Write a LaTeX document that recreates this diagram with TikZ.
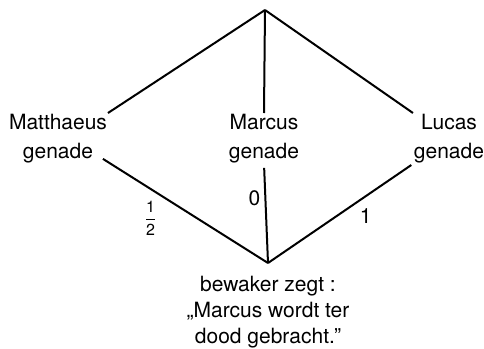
\documentclass[tikz,border=0pt]{standalone}
\usepackage{fontspec}
\setmainfont{TeX Gyre Heros}
\usepackage{tikz}

\begin{document}
\begin{tikzpicture}[
  x=0.5pt, y=-0.5pt,
  line width=1pt,
  gospel/.style={align=center, inner sep=0pt, anchor=north,
                 font=\fontsize{10.5}{14.5}\selectfont},
  verdict/.style={gospel, font=\fontsize{10.5}{13}\selectfont},
  wLabel/.style={inner sep=2pt, font=\fontsize{10.5}{12}\selectfont},
  fracLabel/.style={wLabel, font=\fontsize{8}{9}\selectfont}
]
\useasboundingbox[fill=white] (0,0) rectangle (484,349);
\coordinate (top) at (265,10);
\coordinate (bot) at (268,263);
\node[gospel] (mat) at (58,113) {Matthaeus\\genade};
\node[gospel] (mar) at (264,113) {Marcus\\genade};
\node[gospel] (luc) at (449,113) {Lucas\\genade};
\node[verdict] (guard) at (268,275) {bewaker zegt :\\„Marcus wordt ter\\dood gebracht.”};
\foreach \n/\a in {mat/north east, mar/north, luc/north west} \draw (top) -- (\n.\a);
\draw ([shift={(-5,-5)}]mat.south east) -- node[fracLabel, pos=0.36, anchor=north east] (half) {$\displaystyle\frac{\mathrm{1}}{\mathrm{2}}$} (bot);
\draw[shorten <=2pt] (mar.south) -- node[wLabel, pos=0.35, left] (zero) {0} (bot);
\draw[shorten <=1pt] (luc.south west) -- node[wLabel, pos=0.4, below right] (one) {1} (bot);
\end{tikzpicture}
\end{document}
